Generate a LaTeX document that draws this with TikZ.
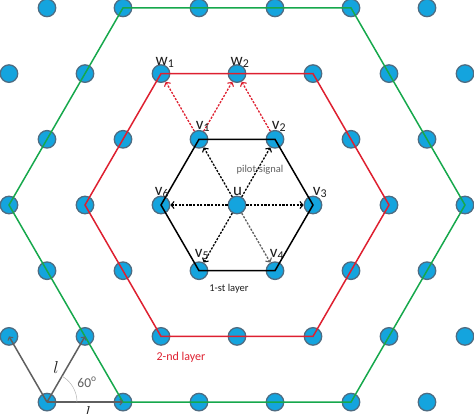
\documentclass[tikz,border=0pt]{standalone}
\usepackage{fontspec}
\setmainfont{Carlito}
\usetikzlibrary{arrows.meta}
\definecolor{dotfill}{RGB}{20,164,222}
\definecolor{dotline}{RGB}{78,108,130}
\definecolor{hexgreen}{RGB}{22,168,76}
\definecolor{hexred}{RGB}{222,32,48}
\definecolor{gline}{RGB}{95,95,95}
\definecolor{labtext}{RGB}{30,30,30}
\begin{document}
\begin{tikzpicture}[x=1pt,y=-1pt,
  dot/.style={circle,fill=dotfill,draw=dotline,line width=1.3pt,minimum size=17.5pt,inner sep=0pt},
  hexline/.style={line width=1.5pt,line join=miter},
  sig/.style={line width=1.3pt,dash pattern=on 2.2pt off 1.4pt,-{Straight Barb[length=3pt,width=7pt,line width=1.1pt]}},
  rsig/.style={sig,hexred},
  gl/.style={gline,line width=1.5pt,-{Straight Barb[length=2.5pt,width=6pt,line width=1pt]}},
  lab/.style={font=\fontsize{17}{17}\selectfont,text=labtext,inner sep=0pt,anchor=base},
  small/.style={font=\fontsize{10.5}{11}\selectfont,inner sep=0pt,anchor=base}]
\useasboundingbox (0,0) rectangle (474,413);
% lattice of dots
\foreach \R in {0,...,6}{
  \pgfmathsetmacro\yy{205+65.7*(\R-3)}
  \pgfmathtruncatemacro\odd{mod(\R,2)}
  \ifnum\odd=1
    \foreach \C in {0,...,6}{\node[dot] (n-\R-\C) at ({9+76*\C},\yy) {};}
  \else
    \foreach \C in {0,...,5}{\node[dot] (n-\R-\C) at ({47+76*\C},\yy) {};}
  \fi
}
% layers
\draw[hexline,hexgreen] (n-0-1.center) -- (n-0-4.center) -- (n-3-6.center) -- (n-6-4.center) -- (n-6-1.center) -- (n-3-0.center) -- cycle;
\draw[hexline,hexred] (n-1-2.center) -- (n-1-4.center) -- (n-3-5.center) -- (n-5-4.center) -- (n-5-2.center) -- (n-3-1.center) -- cycle;
\draw[hexline,black] (n-2-2.center) -- (n-2-3.center) -- (n-3-4.center) -- (n-4-3.center) -- (n-4-2.center) -- (n-3-2.center) -- cycle;
% pilot signals
\draw[sig] (n-3-3) -- (n-2-2);
\draw[sig] (n-3-3) -- (n-2-3);
\draw[sig] (n-3-3) -- (n-3-4);
\draw[sig,gline] (n-3-3) -- (n-4-3);
\draw[sig] (n-3-3) -- (n-4-2);
\draw[sig] (n-3-3) -- (n-3-2);
\draw[rsig] (n-2-2) -- (n-1-2);
\draw[rsig] (n-2-2) -- (n-1-3);
\draw[rsig] (n-2-3) -- (n-1-3);
% lattice vectors
\draw[gl] (n-6-0.center) -- (n-5-0.center);
\draw[gl] (n-6-0.center) -- (n-5-1.center);
\draw[gl] (n-6-0.center) -- (n-6-1.center);
\draw[gray!60,line width=0.5pt] (n-6-0.center) ++(30pt,0pt) arc[start angle=0,end angle=60,radius=30pt];
% labels
\node[lab] (lw1) at (165,65) {w\textsubscript{1}};
\node[lab] (lw2) at (240,65) {w\textsubscript{2}};
\node[lab] (lv1) at (203,129) {v\textsubscript{1}};
\node[lab] (lv2) at (279,129) {v\textsubscript{2}};
\node[lab] (lv3) at (320,195) {v\textsubscript{3}};
\node[lab] (lv6) at (162,195) {v\textsubscript{6}};
\node[lab] (lu) at (237.5,195) {u};
\node[lab] (lv5) at (202,257) {v\textsubscript{5}};
\node[lab] (lv4) at (277,257) {v\textsubscript{4}};
\node[small,text=gline] (lps) at (260,172) {pilot-signal};
\node[small,text=labtext] (l1) at (229,291) {1-st layer};
\node[small,text=hexred,font=\fontsize{12}{12}\selectfont] (l2) at (181,360) {2-nd layer};
\node[small,text=gline,font=\fontsize{13.5}{13.5}\selectfont] (l60) at (87,387) {60\textsuperscript{o}};
\node[inner sep=0pt,anchor=base,text=labtext,font=\fontsize{16}{16}\selectfont] (ll1) at (56,373) {$l$};
\node[inner sep=0pt,anchor=base,text=labtext,font=\fontsize{16}{16}\selectfont] (ll2) at (88,418) {$l$};
\end{tikzpicture}
\end{document}
